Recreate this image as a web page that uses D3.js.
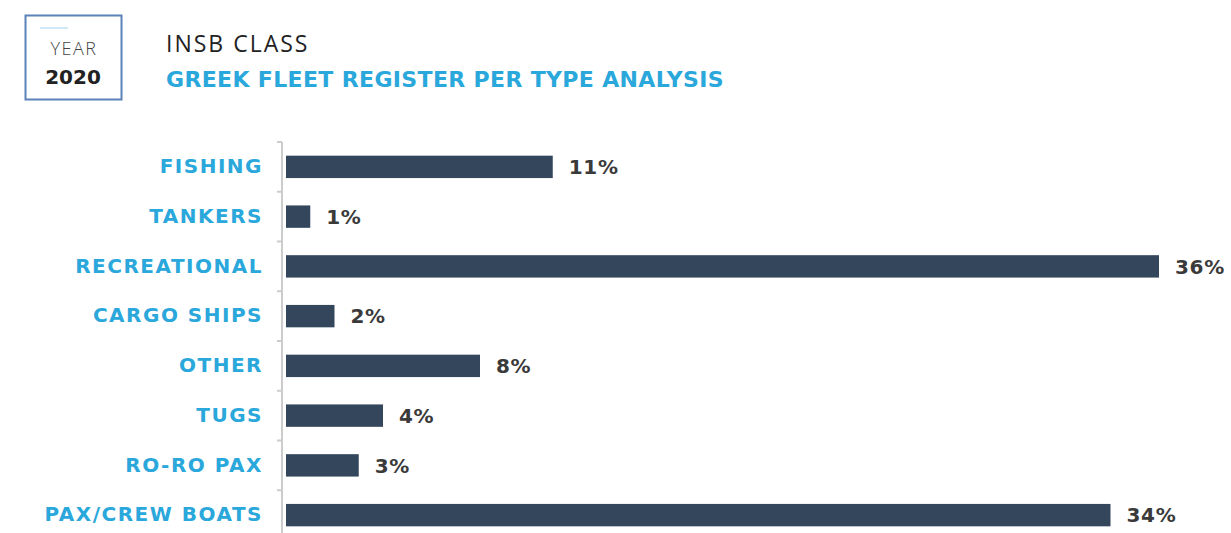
<!DOCTYPE html>
<html><head><meta charset="utf-8">
<script src="https://cdn.jsdelivr.net/npm/d3@7"></script>
<style>
body{margin:0;background:#fff;}
svg{display:block;}
text{font-family:"DejaVu Sans",sans-serif;}
</style></head>
<body>
<svg id="chart" width="1231" height="533"></svg>
<script>
const categories = ["FISHING","TANKERS","RECREATIONAL","CARGO SHIPS","OTHER","TUGS","RO-RO PAX","PAX/CREW BOATS"];
const values = [11, 1, 36, 2, 8, 4, 3, 34];
const valueLabels = ["11%","1%","36%","2%","8%","4%","3%","34%"];
const titleLine1 = "INSB CLASS";
const titleLine2 = "GREEK FLEET REGISTER PER TYPE ANALYSIS";
const yearLabel = "YEAR";
const yearValue = "2020";

const svg = d3.select("#chart");
const blue = "#2aa7db", bar = "#34465c", dark = "#3a3a3a";

// header box
svg.append("rect").attr("x",25.5).attr("y",15.5).attr("width",96).attr("height",84)
  .attr("fill","none").attr("stroke","#5a82b8").attr("stroke-width",2);
svg.append("line").attr("x1",40).attr("x2",68).attr("y1",28).attr("y2",28)
  .attr("stroke","#bfe3f3").attr("stroke-width",1.5);
svg.append("text").attr("x",74).attr("y",55).attr("text-anchor","middle")
  .attr("font-size",18).attr("font-weight",300).attr("fill","#444")
  .attr("letter-spacing",1.5).style("font-family","'Open Sans',sans-serif").text(yearLabel);
svg.append("text").attr("x",73).attr("y",84).attr("text-anchor","middle")
  .attr("font-size",20).attr("font-weight",700).attr("fill","#222").text(yearValue);
svg.append("text").attr("x",166).attr("y",52).attr("font-size",23).attr("font-weight",400)
  .attr("letter-spacing",2)
  .attr("fill","#222").style("font-family","'Open Sans',sans-serif").text(titleLine1);
svg.append("text").attr("x",166).attr("y",87).attr("font-size",22).attr("font-weight",700)
  .attr("letter-spacing",0.35).attr("fill",blue).text(titleLine2);

const x = d3.scaleLinear().domain([0, 36]).range([286, 1159]);
const y = d3.scaleBand().domain(categories).range([142, 540]).paddingInner(0.55).paddingOuter(0.275);
const step = y.step();

// axis line & ticks
const g = svg.append("g");
g.append("line").attr("x1",282).attr("x2",282).attr("y1",142).attr("y2",533)
  .attr("stroke","#cccccc").attr("stroke-width",2);
g.selectAll(".tick").data(categories).join("line")
  .attr("x1",277).attr("x2",282)
  .attr("y1",d=>y(d)+y.bandwidth()/2-step/2).attr("y2",d=>y(d)+y.bandwidth()/2-step/2)
  .attr("stroke","#cccccc").attr("stroke-width",2);

svg.selectAll(".bar").data(categories).join("rect")
  .attr("x",x(0)).attr("y",d=>y(d)).attr("height",y.bandwidth())
  .attr("width",(d,i)=>x(values[i])-x(0)).attr("fill",bar);

svg.selectAll(".cat").data(categories).join("text")
  .attr("x",263).attr("y",d=>y(d)+y.bandwidth()/2-1).attr("dy","0.36em")
  .attr("text-anchor","end").attr("font-size",20).attr("font-weight",700)
  .attr("letter-spacing",1.5).attr("fill",blue).text(d=>d);

svg.selectAll(".val").data(categories).join("text")
  .attr("x",(d,i)=>x(values[i])+16).attr("y",d=>y(d)+y.bandwidth()/2).attr("dy","0.36em")
  .attr("font-size",20).attr("font-weight",700).attr("fill",dark).attr("letter-spacing",0.7)
  .text((d,i)=>valueLabels[i]);
</script>
</body></html>
